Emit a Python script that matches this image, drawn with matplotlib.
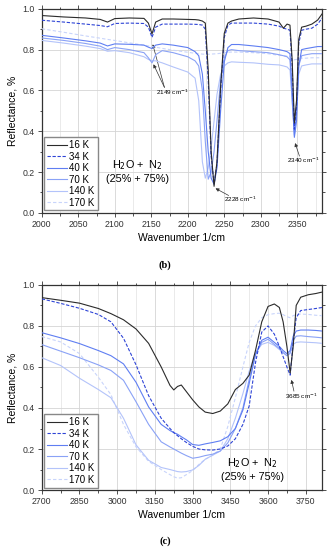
import matplotlib
matplotlib.use("Agg")
import matplotlib.pyplot as plt
from matplotlib.ticker import MultipleLocator, FormatStrFormatter

# ---- panel (b): 2000-2384 cm-1 ----
wn_b = [2000, 2030, 2060, 2080, 2090, 2100, 2120, 2140, 2146, 2151, 2156, 2165,
        2180, 2200, 2210, 2215, 2220, 2224, 2228, 2232, 2236, 2240, 2245, 2250,
        2255, 2260, 2270, 2290, 2310, 2325, 2331, 2336, 2340, 2343, 2346, 2349,
        2352, 2356, 2362, 2370, 2378, 2384]
b_16 = [.967, .960, .955, .948, .935, .952, .955, .953, .930, .877, .935, .950,
        .950, .948, .947, .945, .940, .930, .700, .300, .130, .250, .620, .880,
        .930, .940, .950, .955, .950, .935, .905, .925, .920, .750, .440, .550,
        .850, .910, .915, .925, .945, .975]
b_34 = [.944, .935, .925, .918, .912, .928, .930, .928, .910, .860, .910, .925,
        .925, .925, .924, .923, .920, .900, .650, .280, .140, .240, .600, .860,
        .920, .930, .930, .930, .925, .915, .905, .900, .895, .720, .410, .520,
        .830, .895, .900, .905, .925, .955]
b_40 = [.870, .857, .843, .832, .818, .828, .826, .822, .812, .805, .822, .828,
        .822, .810, .790, .770, .680, .500, .300, .170, .140, .220, .500, .740,
        .810, .825, .825, .818, .810, .800, .795, .790, .780, .600, .370, .450,
        .720, .800, .805, .810, .815, .815]
b_70 = [.857, .845, .830, .817, .800, .810, .800, .785, .760, .735, .775, .795,
        .785, .765, .745, .720, .600, .350, .165, .200, .300, .450, .650, .760,
        .795, .800, .795, .790, .785, .775, .770, .765, .750, .550, .380, .500,
        .720, .770, .775, .780, .780, .780]
b_140 = [.845, .832, .817, .805, .792, .795, .785, .765, .752, .745, .745, .735,
         .715, .690, .660, .550, .250, .170, .220, .320, .450, .580, .680, .720,
         .735, .740, .738, .735, .728, .725, .720, .715, .700, .550, .400, .520,
         .680, .720, .725, .730, .730, .730]
b_170 = [.902, .885, .867, .856, .850, .845, .833, .822, .818, .815, .812, .806,
         .797, .787, .782, .780, .778, .777, .777, .778, .779, .780, .782, .785,
         .787, .788, .788, .785, .780, .772, .770, .768, .765, .755, .750, .752,
         .755, .758, .758, .760, .760, .760]

# ---- panel (c): 2700-3815 cm-1 ----
wn_c = [2700, 2775, 2850, 2925, 2975, 3025, 3075, 3125, 3175, 3210, 3225, 3240,
        3255, 3275, 3300, 3325, 3350, 3380, 3410, 3440, 3470, 3500, 3525, 3550,
        3575, 3600, 3625, 3645, 3660, 3675, 3688, 3700, 3712, 3730, 3760, 3790, 3815]
c_16 = [.938, .925, .911, .885, .860, .830, .785, .715, .600, .510, .488, .505,
        .512, .480, .440, .405, .380, .373, .385, .420, .490, .520, .560, .680,
        .820, .895, .907, .890, .820, .700, .570, .700, .900, .940, .952, .958, .965]
c_34 = [.932, .910, .886, .856, .820, .740, .610, .460, .350, .300, .280, .265,
        .250, .232, .213, .200, .196, .195, .200, .215, .250, .320, .410, .620,
        .770, .800, .760, .700, .650, .600, .560, .720, .840, .875, .880, .885, .890]
c_40 = [.767, .742, .714, .680, .655, .615, .525, .405, .320, .290, .280, .272,
        .260, .245, .222, .218, .225, .232, .240, .260, .300, .390, .520, .660,
        .730, .745, .720, .700, .680, .665, .680, .750, .775, .780, .780, .778, .775]
c_70 = [.709, .677, .645, .610, .583, .535, .430, .320, .235, .210, .200, .190,
        .180, .168, .155, .160, .168, .175, .190, .230, .300, .400, .540, .660,
        .720, .735, .710, .690, .670, .655, .670, .730, .750, .752, .748, .745, .742]
c_140 = [.645, .607, .545, .490, .450, .350, .220, .145, .110, .100, .095, .090,
         .088, .090, .098, .120, .150, .170, .190, .250, .350, .470, .580, .670,
         .710, .720, .705, .685, .670, .655, .665, .710, .720, .722, .720, .718, .715]
c_170 = [.748, .722, .665, .550, .465, .320, .210, .140, .100, .075, .065, .058,
         .060, .075, .095, .125, .150, .170, .200, .310, .450, .600, .720, .800,
         .840, .855, .860, .862, .855, .845, .840, .850, .855, .858, .856, .852, .850]

labels = ["16 K", "34 K", "40 K", "70 K", "140 K", "170 K"]
colors = ["#2b2b2b", "#2e44d6", "#5f7ef2", "#8aa2f6", "#b3c3fa", "#c8d4fb"]
styles = ["-", (0, (3, 1.5)), "-", "-", "-", (0, (3, 2))]

plt.rcParams["font.family"] = ["Liberation Sans", "DejaVu Sans"]

fig = plt.figure(figsize=(3.29, 5.5), dpi=100)
ax_b = fig.add_axes([0.127, 0.613, 0.852, 0.371])
ax_c = fig.add_axes([0.127, 0.109, 0.852, 0.373])


def style_axes(ax, xlim, xmajor, xminor):
    ax.set_xlim(*xlim)
    ax.set_ylim(0, 1.0)
    ax.xaxis.set_major_locator(MultipleLocator(xmajor))
    ax.xaxis.set_minor_locator(MultipleLocator(xminor))
    ax.yaxis.set_major_locator(MultipleLocator(0.2))
    ax.yaxis.set_minor_locator(MultipleLocator(0.1))
    ax.yaxis.set_major_formatter(FormatStrFormatter("%.1f"))
    ax.grid(True, which="major", color="#d4d4d4", lw=0.6)
    ax.grid(True, which="minor", axis="x", color="#e2e2e2", lw=0.5)
    ax.set_axisbelow(True)
    ax.tick_params(axis="both", which="both", labelsize=6.3, colors="#333333",
                   width=0.6, pad=2)
    ax.tick_params(which="major", length=3)
    ax.tick_params(which="minor", length=1.8)
    ax.tick_params(top=True, right=True, which="both")
    for s in ax.spines.values():
        s.set_color("#333333")
        s.set_linewidth(0.9)
    ax.set_xlabel("Wavenumber 1/cm", fontsize=7.5, labelpad=3)
    ax.set_ylabel("Reflectance, %", fontsize=7.5, labelpad=4)


series_b = [b_16, b_34, b_40, b_70, b_140, b_170]
series_c = [c_16, c_34, c_40, c_70, c_140, c_170]

for ax, wn, series in [(ax_b, wn_b, series_b), (ax_c, wn_c, series_c)]:
    # light ones first so the dark curves stay on top
    for i in reversed(range(6)):
        ax.plot(wn, series[i], color=colors[i], ls=styles[i], lw=0.8,
                label=labels[i], zorder=3 + (6 - i))
    h, l = ax.get_legend_handles_labels()
    ax.legend(h[::-1], l[::-1], loc="lower left", fontsize=7, frameon=True,
              fancybox=False, edgecolor="#888888", framealpha=1,
              handlelength=2.0, handletextpad=0.3, labelspacing=0.15,
              borderpad=0.3, borderaxespad=0.25, alignment="right")

style_axes(ax_b, (2000, 2384), 50, 25)
style_axes(ax_c, (2700, 3815), 150, 75)

arrow = dict(arrowstyle="-|>", lw=0.5, color="#333333", mutation_scale=5,
             shrinkA=0, shrinkB=0)

# panel (b) notes
ax_b.text(2179, 0.589, "2149 cm$^{-1}$", fontsize=4.6, ha="center", va="center")
ax_b.annotate("", xy=(2152, 0.826), xytext=(2168, 0.615), arrowprops=arrow)
ax_b.annotate("", xy=(2153, 0.728), xytext=(2168, 0.615), arrowprops=arrow)
ax_b.text(2272, 0.067, "2228 cm$^{-1}$", fontsize=4.6, ha="center", va="center")
ax_b.annotate("", xy=(2238, 0.12), xytext=(2256, 0.085), arrowprops=arrow)
ax_b.text(2358, 0.255, "2340 cm$^{-1}$", fontsize=4.6, ha="center", va="center")
ax_b.annotate("", xy=(2347, 0.342), xytext=(2353, 0.278), arrowprops=arrow)
ax_b.text(2131, 0.205, "H$_2$O +  N$_2$\n(25% + 75%)", fontsize=7.8,
          ha="center", va="center", linespacing=1.25)

# panel (c) notes
ax_c.text(3734, 0.455, "3685 cm$^{-1}$", fontsize=4.6, ha="center", va="center")
ax_c.annotate("", xy=(3693, 0.537), xytext=(3703, 0.482), arrowprops=arrow)
ax_c.text(3540, 0.10, "H$_2$O +  N$_2$\n(25% + 75%)", fontsize=7.8,
          ha="center", va="center", linespacing=1.25)

fig.text(0.502, 0.518, "(b)", fontsize=7.5, fontweight="bold",
         family=["Liberation Serif", "DejaVu Serif"], ha="center", va="center")
fig.text(0.502, 0.016, "(c)", fontsize=7.5, fontweight="bold",
         family=["Liberation Serif", "DejaVu Serif"], ha="center", va="center")

fig.savefig("out.png", dpi=100)
